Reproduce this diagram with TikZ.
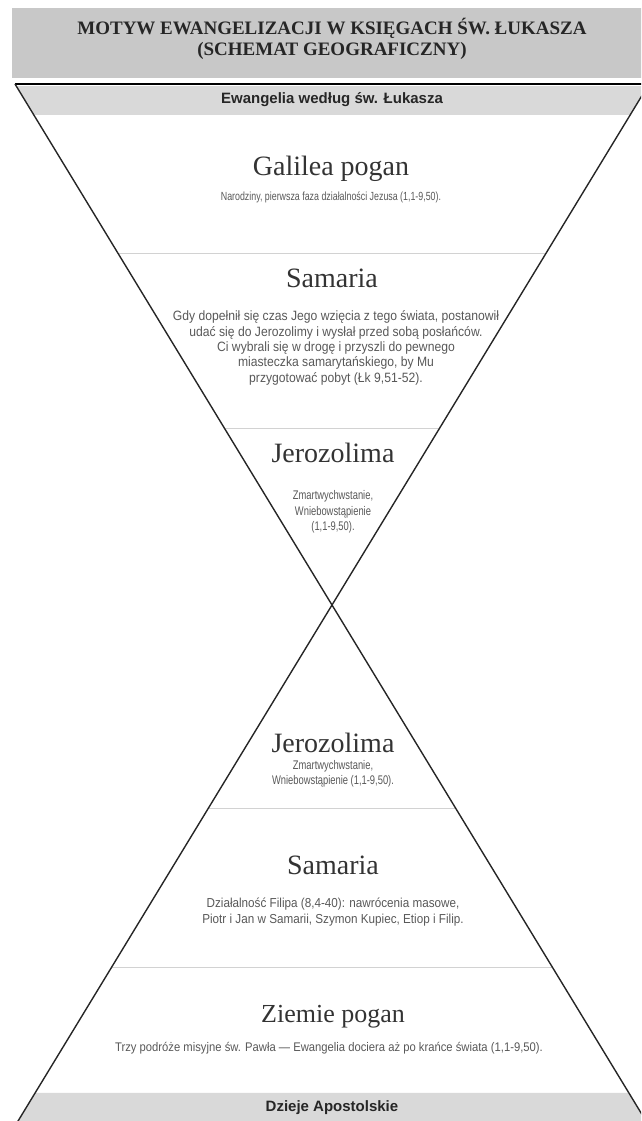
\documentclass[tikz,border=0pt]{standalone}
\usepackage{fontspec}
\setmainfont{Liberation Serif}
\setsansfont{Liberation Sans}
\newfontfamily\narrowsans[FakeStretch=0.75]{Liberation Sans}
\newfontfamily\halfnarrowsans[FakeStretch=0.9]{Liberation Sans}
\usetikzlibrary{calc,positioning}
\definecolor{titlegray}{HTML}{C8C8C8}
\definecolor{bandgray}{HTML}{D9D9D9}
\definecolor{sepgray}{HTML}{D2D2D2}
\definecolor{inkgray}{HTML}{333333}
\definecolor{descgray}{HTML}{585858}
\tikzset{
  place/.style={font=\fontsize{28}{30}\selectfont, text=inkgray, inner sep=0pt},
  desc/.style={font=\narrowsans\fontsize{12.5}{15.3}\selectfont, text=descgray, align=center, inner sep=0pt},
  widedesc/.style={desc, font=\halfnarrowsans\fontsize{12.5}{15.3}\selectfont},
  bandlabel/.style={font=\sffamily\bfseries\fontsize{15}{17}\selectfont, text=black!85, inner sep=0pt},
  titletext/.style={font=\bfseries\fontsize{19}{20.5}\selectfont, text=black!85, align=center, inner sep=0pt},
  hourglass/.style={line width=1.4pt, black!85},
  separator/.style={line width=0.8pt, sepgray}
}

\begin{document}
\begin{tikzpicture}[x=1pt, y=-1pt]
  \useasboundingbox (0,0) rectangle (641,1121);
  \clip (0,0) rectangle (641,1121);

  % corners of the hourglass
  \coordinate (tl) at (15,84);
  \coordinate (tr) at (649,84);
  \coordinate (mid) at (332,605);
  \coordinate (bl) at (15,1126);
  \coordinate (br) at (649,1126);

  % title
  \fill[titlegray] (12,8) rectangle (652,78);
  \node[titletext] (title) at (332,39) {MOTYW EWANGELIZACJI W KSIĘGACH ŚW. ŁUKASZA\\(SCHEMAT GEOGRAFICZNY)};
  \draw[line width=1.6pt] (tl) -- (tr);

  % grey bands at both ends
  \fill[bandgray] ($(tl)!0.004!(mid)$) -- ($(tr)!0.004!(mid)$) -- ($(tr)!0.0595!(mid)$) -- ($(tl)!0.0595!(mid)$) -- cycle;
  \fill[bandgray] ($(bl)!0.0634!(mid)$) -- ($(br)!0.0634!(mid)$) -- (br) -- (bl) -- cycle;
  \node[bandlabel] (gospel) at (332,100) {Ewangelia według św. Łukasza};
  \node[bandlabel] (acts) at (332,1108) {Dzieje Apostolskie};

  % separators
  \draw[separator] ($(tl)!0.3244!(mid)$) -- ($(tr)!0.3244!(mid)$);
  \draw[separator] ($(tl)!0.6603!(mid)$) -- ($(tr)!0.6603!(mid)$);
  \draw[separator] ($(bl)!0.6104!(mid)$) -- ($(br)!0.6104!(mid)$);
  \draw[separator] ($(bl)!0.3052!(mid)$) -- ($(br)!0.3052!(mid)$);

  % hourglass
  \draw[hourglass] (tl) -- (br);
  \draw[hourglass] (tr) -- (bl);

  % upper half
  \node[place] (galilea) at (331,169) {Galilea pogan};
  \node[desc, font=\narrowsans\fontsize{11.8}{14}\selectfont] (galileatxt) at (331,197) {Narodziny, pierwsza faza działalności Jezusa (1,1-9,50).};
  \node[place] (samaria) at (332,278) {Samaria};
  \node[widedesc, font=\halfnarrowsans\fontsize{13.5}{15.3}\selectfont] (samariatxt) at (336,348) {Gdy dopełnił się czas Jego wzięcia z tego świata, postanowił\\udać się do Jerozolimy i wysłał przed sobą posłańców.\\Ci wybrali się w drogę i przyszli do pewnego\\miasteczka samarytańskiego, by Mu\\przygotować pobyt (Łk 9,51-52).};
  \node[place] (jerozolima) at (333,453) {Jerozolima};
  \node[desc] (jerozolimatxt) at (333,512) {Zmartwychwstanie,\\Wniebowstąpienie\\(1,1-9,50).};

  % lower half
  \node[place] (jerozolimab) at (333,743) {Jerozolima};
  \node[desc] (jerozolimabtxt) at (333,774) {Zmartwychwstanie,\\Wniebowstąpienie (1,1-9,50).};
  \node[place] (samariab) at (333,865) {Samaria};
  \node[widedesc, font=\halfnarrowsans\fontsize{13}{15.3}\selectfont] (samariabtxt) at (333,912) {Działalność Filipa (8,4-40): nawrócenia masowe,\\Piotr i Jan w Samarii, Szymon Kupiec, Etiop i Filip.};
  \node[place, font=\fontsize{26}{28}\selectfont] (ziemie) at (333,1017) {Ziemie pogan};
  \node[widedesc] (ziemietxt) at (329,1048) {Trzy podróże misyjne św. Pawła — Ewangelia dociera aż po krańce świata (1,1-9,50).};
\end{tikzpicture}
\end{document}
